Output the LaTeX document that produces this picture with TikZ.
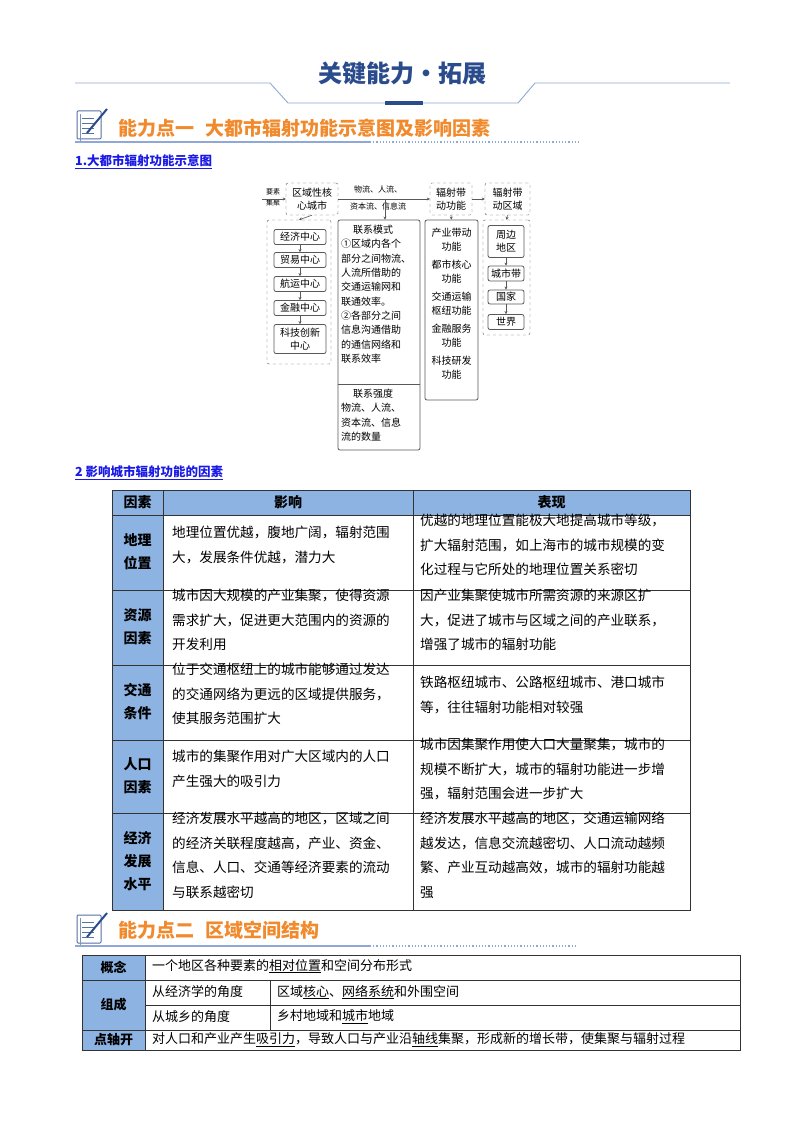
\documentclass[tikz,border=0pt]{standalone}
\usepackage{fontspec}
\setmainfont{Noto Sans CJK SC}
\usetikzlibrary{arrows.meta}
\definecolor{hdblue}{HTML}{2B4C8C}
\definecolor{lnblue}{HTML}{8FA8D8}
\definecolor{orng}{HTML}{F08A2C}
\definecolor{thblue}{HTML}{8DB3E2}
\definecolor{lkblue}{HTML}{1A1AE6}
\tikzset{
 dbox/.style={draw=gray!70!black,dashed,rounded corners=2pt},
 sbox/.style={draw=gray!70!black,rounded corners=2pt,line width=0.8pt},
 dtxt/.style={font=\fontsize{10}{13}\selectfont,align=center,inner sep=0pt},
 arr/.style={-{Stealth[length=3pt,width=3pt]},gray!70!black,line width=0.6pt},
 cell/.style={anchor=north west,align=left,inner sep=0pt,font=\fontsize{13.6}{24.5}\selectfont},
 lab/.style={align=center,inner sep=0pt,font=\fontsize{14}{23}\selectfont\bfseries},
 tline/.style={line width=0.7pt,black!80},
 sec/.style={anchor=west,inner sep=0pt,text=orng,font=\fontsize{19}{22}\selectfont\bfseries},
 sub/.style={anchor=west,inner sep=0pt,text=lkblue,font=\fontsize{12.5}{14}\selectfont\bfseries},
}
\newcommand{\myicon}[2]{%
 \draw[hdblue!80,line width=1pt,rounded corners=1pt] (#1,#2) rectangle ++(24,28);
 \draw[hdblue!60,line width=1pt] (#1+3,#2+3) -- ++(0,28) -- ++(22,0);
 \foreach \k in {7,12,17,22} \draw[hdblue!80,line width=0.8pt] (#1+5,#2+\k) -- ++(12,0);
 \draw[hdblue,line width=2pt] (#1+10,#2+22) -- (#1+30,#2-2);}
\begin{document}
\begin{tikzpicture}[x=1pt,y=-1pt]
\useasboundingbox (0,0) rectangle (800,1134);
\fill[white] (0,0) rectangle (800,1134);
% title
\draw[lnblue,line width=0.9pt] (75,83) -- (270,83) -- (288,103) -- (518,103) -- (535,83) -- (730,83);
\fill[hdblue] (385,101) rectangle (423,105);
\node[inner sep=0pt,text=hdblue,font=\fontsize{24}{26}\selectfont\bfseries] (title) at (402,74) {关键能力·拓展};
% section 1
\myicon{77}{111}
\node[sec] (s1) at (118,128) {能力点一\hspace{0.6em}大都市辐射功能示意图及影响因素};
\draw[lnblue,line width=1.2pt] (75,142) -- (370,142);
\draw[lnblue,line width=1.2pt,dotted] (370,142) -- (580,142);
\node[sub] (h1) at (75,162) {\underline{1.大都市辐射功能示意图}};
% diagram
\node[inner sep=0pt,font=\fontsize{7}{9}\selectfont,align=center] (yaosu) at (273,197) {要素\\[2pt]集聚};
\node[dbox,minimum width=52pt,minimum height=32pt,dtxt] (core) at (312,199) {区域性核\\心城市};
\node[dbox,minimum width=42pt,minimum height=32pt,dtxt] (func) at (451,199) {辐射带\\动功能};
\node[dbox,minimum width=45pt,minimum height=32pt,dtxt] (area) at (507.5,199) {辐射带\\动区域};
\coordinate (yin) at (262,199);
\draw[arr] (yin) -- (core.west);
\draw[arr] (core.east) -- (func.west);
\draw[arr] (func.east) -- (area.west);
\node[inner sep=0pt,font=\fontsize{8}{10}\selectfont] (fl1) at (378,189) {物流、人流、};
\node[inner sep=0pt,font=\fontsize{8}{10}\selectfont] (fl2) at (378,206) {资本流、信息流};
% left column
\node[dbox,minimum width=64pt,minimum height=144pt] (lbox) at (299,292) {};
\draw[arr] (core.south) -- (lbox.north);
\node[sbox,minimum width=52pt,minimum height=15pt,dtxt] (c1) at (300,237) {经济中心};
\node[sbox,minimum width=52pt,minimum height=15pt,dtxt] (c2) at (300,260) {贸易中心};
\node[sbox,minimum width=52pt,minimum height=15pt,dtxt] (c3) at (300,284) {航运中心};
\node[sbox,minimum width=52pt,minimum height=15pt,dtxt] (c4) at (300,308) {金融中心};
\node[sbox,minimum width=52pt,minimum height=29pt,dtxt] (c5) at (300,339) {科技创新\\中心};
\foreach \a/\b in {c1/c2,c2/c3,c3/c4,c4/c5} \draw[arr] (\a) -- (\b);
% middle column
\node[sbox,minimum width=82pt,minimum height=230pt] (mbox) at (379,335) {};
\draw[gray!70!black,line width=0.8pt] (338,384) -- (420,384);
\coordinate (mtop) at (385,199);
\draw[arr] (mtop) -- (mbox.north -| mtop);
\node[dtxt,align=left,anchor=north west,font=\fontsize{10}{14.3}\selectfont] (mtxt) at (341,225) {\hspace*{1.2em}联系模式\\①区域内各个\\部分之间物流、\\人流所借助的\\交通运输网和\\联通效率。\\②各部分之间\\信息沟通借助\\的通信网络和\\联系效率};
\node[dtxt,align=left,anchor=north west,font=\fontsize{10}{14.3}\selectfont] (mtxt2) at (341,389) {\hspace*{1.2em}联系强度\\物流、人流、\\资本流、信息\\流的数量};
% function column
\node[sbox,minimum width=53pt,minimum height=180pt] (fbox) at (451.5,310) {};
\draw[arr] (func.south) -- (fbox.north);
\node[dtxt,anchor=north,font=\fontsize{10}{13.5}\selectfont] (ftxt) at (451.5,228) {产业带动\\功能\\[5pt]都市核心\\功能\\[5pt]交通运输\\枢纽功能\\[5pt]金融服务\\功能\\[5pt]科技研发\\功能};
% right column
\node[dbox,minimum width=47pt,minimum height=115pt] (rbox) at (506.5,277.5) {};
\draw[arr] (area.south) -- (rbox.north);
\node[sbox,minimum width=36pt,minimum height=32pt,dtxt] (r1) at (506,241.5) {周边\\地区};
\node[sbox,minimum width=36pt,minimum height=15pt,dtxt] (r2) at (506,273.5) {城市带};
\node[sbox,minimum width=36pt,minimum height=14pt,dtxt] (r3) at (506,297) {国家};
\node[sbox,minimum width=36pt,minimum height=15pt,dtxt] (r4) at (506,322) {世界};
\foreach \a/\b in {r1/r2,r2/r3,r3/r4} \draw[arr] (\a) -- (\b);
% table 1
\node[sub] (h2) at (75,473) {\underline{2 影响城市辐射功能的因素}};
\fill[thblue] (112,490) rectangle (690,515);
\fill[thblue] (112,515) rectangle (163,910);
\draw[tline] (112,490) rectangle (690,910);
\foreach \yy in {515,590,665,740,813} \draw[tline] (112,\yy) -- (690,\yy);
\draw[tline] (163,490) -- (163,910);
\draw[tline] (413,490) -- (413,910);
\node[lab] (th1) at (137.5,502.5) {因素};
\node[lab] (th2) at (288,502.5) {影响};
\node[lab] (th3) at (551.5,502.5) {表现};
\node[lab] (f1) at (137.5,552) {地理\\位置};
\node[lab] (f2) at (137.5,627) {资源\\因素};
\node[lab] (f3) at (137.5,702) {交通\\条件};
\node[lab] (f4) at (137.5,776) {人口\\因素};
\node[lab] (f5) at (137.5,861) {经济\\发展\\水平};
\node[cell] (a1) at (172,526) {地理位置优越，腹地广阔，辐射范围\\大，发展条件优越，潜力大};
\node[cell] (b1) at (420,514) {优越的地理位置能极大地提高城市等级，\\扩大辐射范围，如上海市的城市规模的变\\化过程与它所处的地理位置关系密切};
\node[cell] (a2) at (172,589) {城市因大规模的产业集聚，使得资源\\需求扩大，促进更大范围内的资源的\\开发利用};
\node[cell] (b2) at (420,589) {因产业集聚使城市所需资源的来源区扩\\大，促进了城市与区域之间的产业联系，\\增强了城市的辐射功能};
\node[cell] (a3) at (172,663) {位于交通枢纽上的城市能够通过发达\\的交通网络为更远的区域提供服务，\\使其服务范围扩大};
\node[cell] (b3) at (420,676) {铁路枢纽城市、公路枢纽城市、港口城市\\等，往往辐射功能相对较强};
\node[cell] (a4) at (172,750) {城市的集聚作用对广大区域内的人口\\产生强大的吸引力};
\node[cell] (b4) at (420,738) {城市因集聚作用使人口大量聚集，城市的\\规模不断扩大，城市的辐射功能进一步增\\强，辐射范围会进一步扩大};
\node[cell] (a5) at (172,812) {经济发展水平越高的地区，区域之间\\的经济关联程度越高，产业、资金、\\信息、人口、交通等经济要素的流动\\与联系越密切};
\node[cell] (b5) at (420,812) {经济发展水平越高的地区，交通运输网络\\越发达，信息交流越密切、人口流动越频\\繁、产业互动越高效，城市的辐射功能越\\强};
% section 2
\myicon{77}{915}
\node[sec] (s2) at (118,930) {能力点二\hspace{0.6em}区域空间结构};
\draw[lnblue,line width=1.2pt] (75,946) -- (370,946);
\draw[lnblue,line width=1.2pt,dotted] (370,946) -- (575,946);
% table 2
\fill[thblue] (82,955) rectangle (145,1050);
\draw[tline] (82,955) rectangle (740,1050);
\foreach \yy in {980,1030} \draw[tline] (82,\yy) -- (740,\yy);
\draw[tline] (145,1005) -- (740,1005);
\draw[tline] (145,955) -- (145,1050);
\draw[tline] (270,980) -- (270,1030);
\tikzset{c2/.style={anchor=west,inner sep=0pt,font=\fontsize{13}{15}\selectfont}}
\node[lab,font=\fontsize{13}{15}\selectfont\bfseries] (g1) at (113.5,967.5) {概念};
\node[lab,font=\fontsize{13}{15}\selectfont\bfseries] (g2) at (113.5,1005) {组成};
\node[lab,font=\fontsize{13}{15}\selectfont\bfseries] (g3) at (113.5,1040) {点轴开};
\node[c2] (t1) at (152,966) {一个地区各种要素的\underline{相对位置}和空间分布形式};
\node[c2] (t2) at (152,992) {从经济学的角度};
\node[c2] (t3) at (277,992) {区域\underline{核心}、\underline{网络系统}和外围空间};
\node[c2] (t4) at (152,1017) {从城乡的角度};
\node[c2] (t5) at (277,1017) {乡村地域和\underline{城市}地域};
\node[c2] (t6) at (152,1040) {对人口和产业产生\underline{吸引力}，导致人口与产业沿\underline{轴线}集聚，形成新的增长带，使集聚与辐射过程};
\end{tikzpicture}
\end{document}
